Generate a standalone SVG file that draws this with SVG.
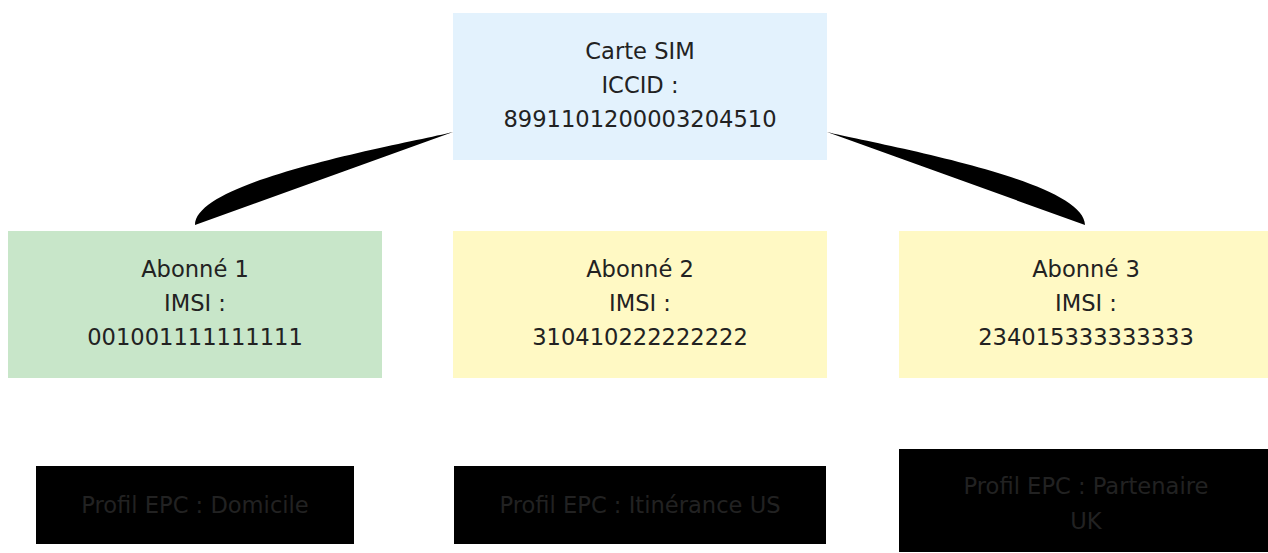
<svg xmlns="http://www.w3.org/2000/svg" width="1268" height="553" viewBox="0 0 1268 553">
<style>
text{font-family:"DejaVu Sans","Liberation Sans",sans-serif;font-size:22.6px;fill:#222;text-anchor:middle}
.sim{fill:#e3f2fd}
.home{fill:#c8e6c9}
.roam{fill:#fff9c4}
.prof{fill:#000}
.edge{fill:#000;stroke:none}
</style>
<rect width="1268" height="553" fill="#fff"/>
<g id="connectors">
<path class="edge" d="M453,132 C400,145 195,180 195,225 Z"/>
<path class="edge" d="M827,132 C880,145 1085,180 1085,225 Z"/>
</g>
<g id="sim">
<rect class="sim" x="453" y="13" width="374" height="147"/>
<text x="640" y="58.7">Carte SIM</text>
<text x="640" y="93">ICCID :</text>
<text x="640" y="127.3">8991101200003204510</text>
</g>
<g id="abonne1">
<rect class="home" x="8" y="231" width="374" height="147"/>
<text x="195" y="276.7">Abonné 1</text>
<text x="195" y="311">IMSI :</text>
<text x="195" y="345.3">001001111111111</text>
</g>
<g id="abonne2">
<rect class="roam" x="453" y="231" width="374" height="147"/>
<text x="640" y="276.7">Abonné 2</text>
<text x="640" y="311">IMSI :</text>
<text x="640" y="345.3">310410222222222</text>
</g>
<g id="abonne3">
<rect class="roam" x="899" y="231" width="374" height="147"/>
<text x="1086" y="276.7">Abonné 3</text>
<text x="1086" y="311">IMSI :</text>
<text x="1086" y="345.3">234015333333333</text>
</g>
<g id="profil1">
<rect class="prof" x="36" y="466" width="318" height="78"/>
<text x="195" y="512.8">Profil EPC : Domicile</text>
</g>
<g id="profil2">
<rect class="prof" x="454" y="466" width="372" height="78"/>
<text x="640" y="512.8">Profil EPC : Itinérance US</text>
</g>
<g id="profil3">
<rect class="prof" x="899" y="449" width="374" height="103"/>
<text x="1086" y="494.3">Profil EPC : Partenaire</text>
<text x="1086" y="528.8">UK</text>
</g>
</svg>
